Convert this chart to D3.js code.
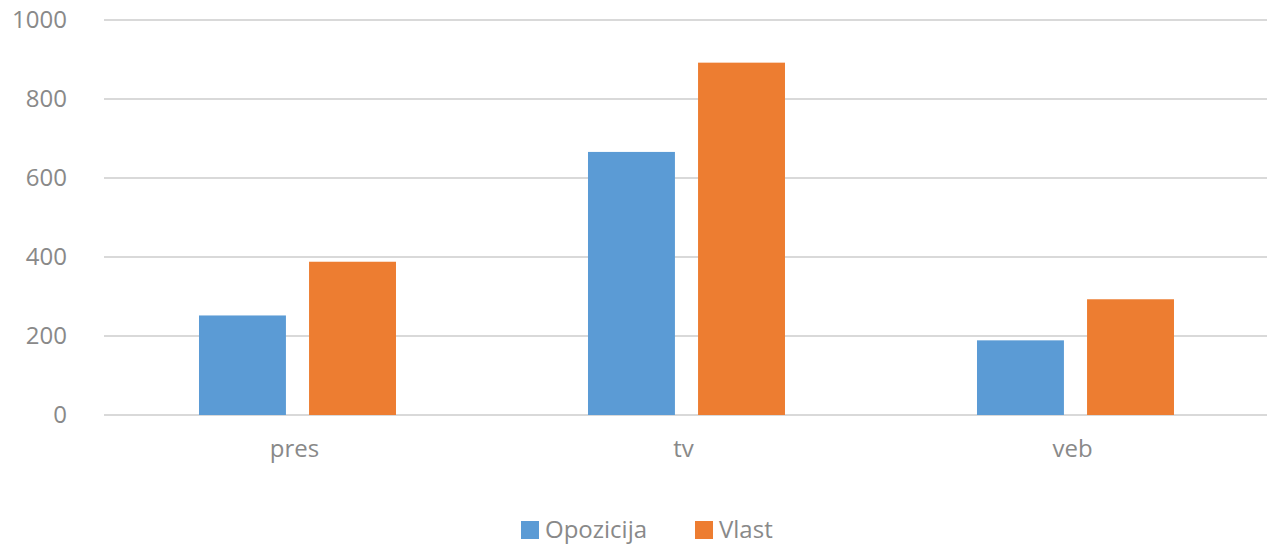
<!DOCTYPE html>
<html>
<head>
<meta charset="utf-8">
<script src="https://cdn.jsdelivr.net/npm/d3@7"></script>
<style>
  body { margin: 0; background: #fff; }
</style>
</head>
<body>
<svg id="chart" width="1267" height="545"></svg>
<script>
// data
const categories = ["pres", "tv", "veb"];
const seriesNames = ["Opozicija", "Vlast"];
const opozicija = [252, 666, 189];
const vlast = [388, 892, 293];
const yTicks = [0, 200, 400, 600, 800, 1000];
const colors = ["#5B9BD5", "#ED7D31"];

const svg = d3.select("#chart")
  .attr("font-family", "'Open Sans', sans-serif");

// plot area runs a little past the right edge, like the original
const margin = {top: 20, right: -4, bottom: 130, left: 104};
const width = +svg.attr("width") - margin.left - margin.right;
const height = +svg.attr("height") - margin.top - margin.bottom;
const textColor = "#898989";
const fontSize = 24;

const x0 = d3.scaleBand()
  .domain(categories)
  .range([margin.left, margin.left + width])
  .padding(0);

const bw = x0.bandwidth();
const x1 = d3.scaleBand()
  .domain(seriesNames)
  .range([bw * 0.2442, bw * 0.7506])
  .paddingInner(0.21);

const y = d3.scaleLinear()
  .domain([0, 1000])
  .range([margin.top + height, margin.top]);

// gridlines
svg.append("g")
  .selectAll("line")
  .data(yTicks)
  .join("line")
    .attr("x1", margin.left)
    .attr("x2", margin.left + width)
    .attr("y1", d => y(d))
    .attr("y2", d => y(d))
    .attr("stroke", "#d9d9d9")
    .attr("stroke-width", 2);

// y labels
svg.append("g")
  .selectAll("text")
  .data(yTicks)
  .join("text")
    .attr("x", 67)
    .attr("y", d => y(d))
    .attr("dy", "0.35em")
    .attr("text-anchor", "end")
    .attr("font-size", fontSize)
    .attr("fill", textColor)
    .text(d => d);

// bars
const rows = categories.map((c, i) => ({cat: c, vals: [opozicija[i], vlast[i]]}));

const groups = svg.append("g")
  .selectAll("g")
  .data(rows)
  .join("g")
    .attr("transform", d => `translate(${x0(d.cat)},0)`);

groups.selectAll("rect")
  .data(d => d.vals.map((v, j) => ({name: seriesNames[j], v: v, j: j})))
  .join("rect")
    .attr("x", d => x1(d.name))
    .attr("width", x1.bandwidth())
    .attr("y", d => y(d.v))
    .attr("height", d => y(0) - y(d.v))
    .attr("fill", d => colors[d.j]);

// category labels
svg.append("g")
  .selectAll("text")
  .data(categories)
  .join("text")
    .attr("x", d => x0(d) + bw / 2 - 4)
    .attr("y", 457)
    .attr("text-anchor", "middle")
    .attr("font-size", fontSize)
    .attr("fill", textColor)
    .text(d => d);

// legend
const legend = svg.append("g");
const legendX = [521, 695];
seriesNames.forEach((s, i) => {
  legend.append("rect")
    .attr("x", legendX[i])
    .attr("y", 521)
    .attr("width", 18)
    .attr("height", 18)
    .attr("fill", colors[i]);
  legend.append("text")
    .attr("x", legendX[i] + 24)
    .attr("y", 538)
    .attr("font-size", fontSize)
    .attr("fill", textColor)
    .text(s);
});
</script>
</body>
</html>
